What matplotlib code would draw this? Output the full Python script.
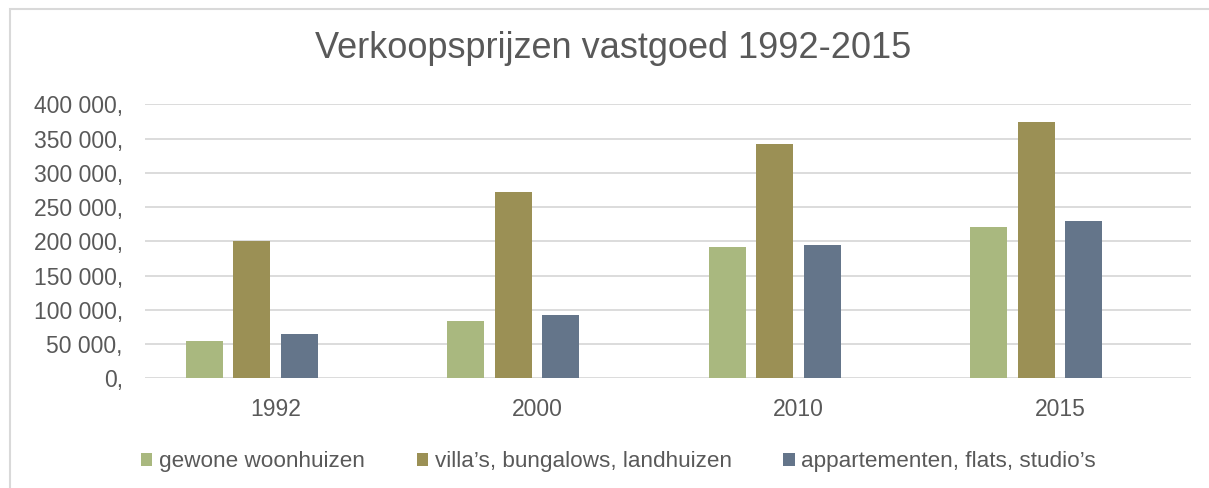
import matplotlib
matplotlib.use("Agg")
import matplotlib.pyplot as plt
import numpy as np
from matplotlib.patches import Rectangle
from matplotlib.ticker import FuncFormatter

# data
years = ["1992", "2000", "2010", "2015"]
series_names = ["gewone woonhuizen", "villa’s, bungalows, landhuizen", "appartementen, flats, studio’s"]
gewone = [55000, 84000, 192000, 221000]
villas = [200000, 272000, 342000, 374000]
appartementen = [65000, 92500, 194500, 230000]
series_colors = ["#A9B87F", "#9B9055", "#64758A"]

W, H = 1209, 488
fig = plt.figure(figsize=(W / 100, H / 100), dpi=100)
fig.patch.set_facecolor("white")

# chart border (the crop cuts off right and bottom edges)
fig.patches.append(Rectangle((10 / W, -0.1), 1.2, 1 - 9 / H + 0.1,
                             transform=fig.transFigure, fill=False,
                             edgecolor="#d9d9d9", linewidth=1.5))

ax = fig.add_axes([145 / W, 1 - 378.3 / H, 1045.7 / W, 274 / H])

x = np.arange(len(years))
step = 0.1817
width = 0.1416
for i, (vals, name, col) in enumerate(zip([gewone, villas, appartementen], series_names, series_colors)):
    ax.bar(x + (i - 1.5) * step, vals, width=width, color=col, label=name, zorder=3)

ax.set_xlim(-0.5, len(years) - 0.5)
ax.set_ylim(0, 400000)
ax.set_yticks(np.arange(0, 400001, 50000))
ax.yaxis.set_major_formatter(FuncFormatter(lambda v, p: f"{v:,.0f}".replace(",", " ") + ","))
ax.set_xticks(x)
ax.set_xticklabels(years)

ax.grid(axis="y", color="#d9d9d9", linewidth=1.3, zorder=0)
for s in ax.spines.values():
    s.set_visible(False)
ax.tick_params(axis="both", length=0, colors="#595959", labelsize=16.5)
ax.tick_params(axis="y", pad=16)
ax.tick_params(axis="x", pad=14)
for lab in ax.get_xticklabels() + ax.get_yticklabels():
    lab.set_family(["Liberation Sans", "DejaVu Sans"])

fig.text(613 / W, 1 - 49 / H, "Verkoopsprijzen vastgoed 1992-2015",
         ha="center", va="center", fontsize=26, color="#595959",
         family=["Liberation Sans", "DejaVu Sans"])

leg = fig.legend(loc="center", bbox_to_anchor=(618.5 / W, 1 - 462 / H), ncol=3,
                 frameon=False, handlelength=0.5, handleheight=0.5, handletextpad=0.3,
                 columnspacing=2.3,
                 prop={"family": ["Liberation Sans", "DejaVu Sans"], "size": 16.2})
for t in leg.get_texts():
    t.set_color("#595959")

fig.savefig("out.png", dpi=100, facecolor="white")
